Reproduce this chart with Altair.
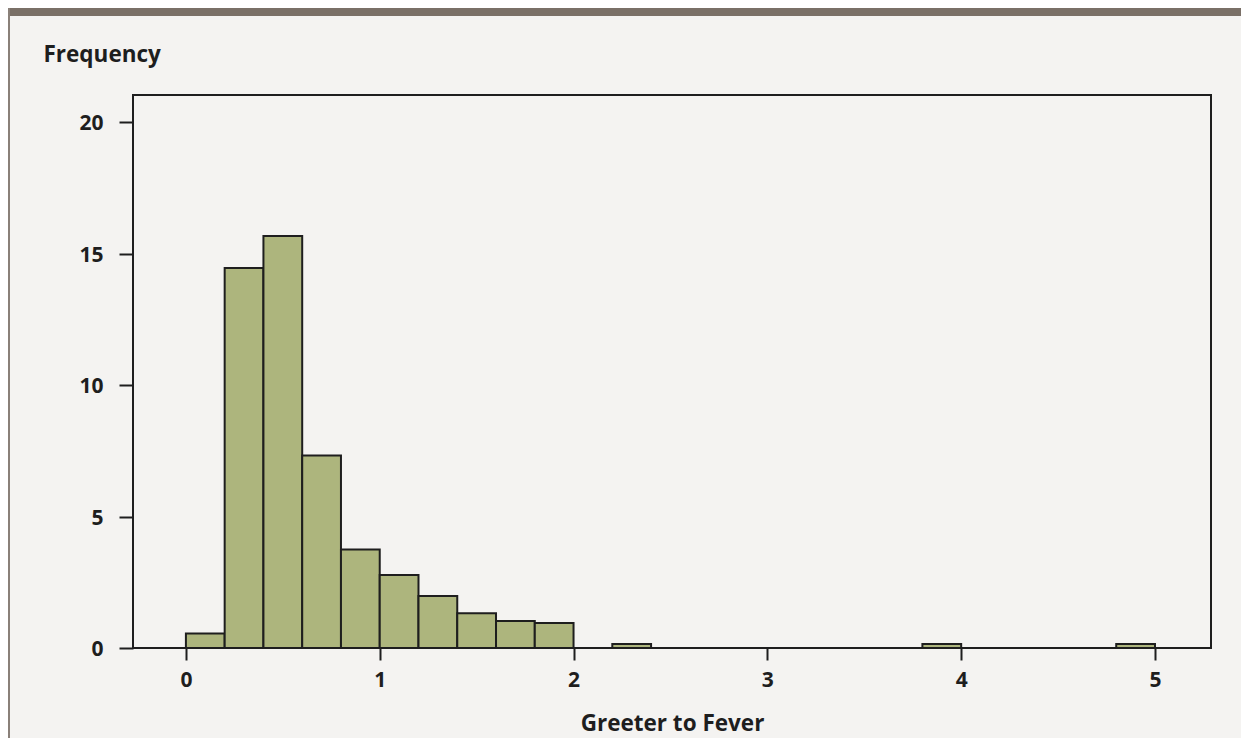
import altair as alt
import pandas as pd

bin_start = [0.0, 0.2, 0.4, 0.6, 0.8, 1.0, 1.2, 1.4, 1.6, 1.8, 2.2, 3.8, 4.8]
bin_end = [0.2, 0.4, 0.6, 0.8, 1.0, 1.2, 1.4, 1.6, 1.8, 2.0, 2.4, 4.0, 5.0]
freq = [0.55, 14.45, 15.67, 7.32, 3.75, 2.78, 1.98, 1.32, 1.03, 0.95, 0.15, 0.15, 0.15]
x_ticks = [0, 1, 2, 3, 4, 5]
y_ticks = [0, 5, 10, 15, 20]

df = pd.DataFrame({"start": bin_start, "end": bin_end, "freq": freq})
df["base"] = 0

W, H = 1078, 553
PL, PT, PR, PB = 125, 87, 30, 90
FONT = "Open Sans"

bars = alt.Chart(df).mark_bar(
    color="#adb57d", stroke="#1e1e1e", strokeWidth=2
).encode(
    x=alt.X("start:Q", scale=alt.Scale(domain=[-0.273, 5.289], nice=False, zero=False),
            axis=alt.Axis(values=x_ticks, title="Greeter to Fever", format="d",
                          domain=False, grid=False, tickSize=12, tickWidth=2,
                          tickColor="#1e1e1e", labelPadding=9,
                          titleY=82, titleBaseline="alphabetic")),
    x2="end:Q",
    y=alt.Y("freq:Q", scale=alt.Scale(domain=[0, 21.03], nice=False),
            axis=alt.Axis(values=y_ticks, title="Frequency", domain=False, grid=False,
                          tickSize=14, tickWidth=2, tickColor="#1e1e1e",
                          labelPadding=16, labelOffset=1.5, titleAngle=0, titleAlign="left",
                          titleBaseline="alphabetic", titleX=-90, titleY=-34)),
    y2="base:Q",
)

deco = pd.DataFrame({"k": [0]})
topbar = alt.Chart(deco).mark_rect(color="#7a7067").encode(
    x=alt.value(-PL), x2=alt.value(W + PR), y=alt.value(-PT), y2=alt.value(-PT + 8)
)
leftbar = alt.Chart(deco).mark_rect(color="#8a8079").encode(
    x=alt.value(-PL), x2=alt.value(-PL + 2), y=alt.value(-PT), y2=alt.value(H + PB)
)

chart = alt.layer(topbar, leftbar, bars).properties(
    width=W, height=H,
    autosize=alt.AutoSizeParams(type="none"),
    padding={"left": PL, "top": PT, "right": PR, "bottom": PB},
    background="#f4f3f1",
).configure_view(
    stroke="#1e1e1e", strokeWidth=2
).configure_axis(
    labelFont=FONT, labelFontSize=21, labelFontWeight="bold", labelColor="#1e1e1e",
    titleFont=FONT, titleFontSize=22.5, titleFontWeight="bold", titleColor="#1e1e1e",
)

chart.save("out.html", embed_options={"renderer": "svg", "actions": False})
